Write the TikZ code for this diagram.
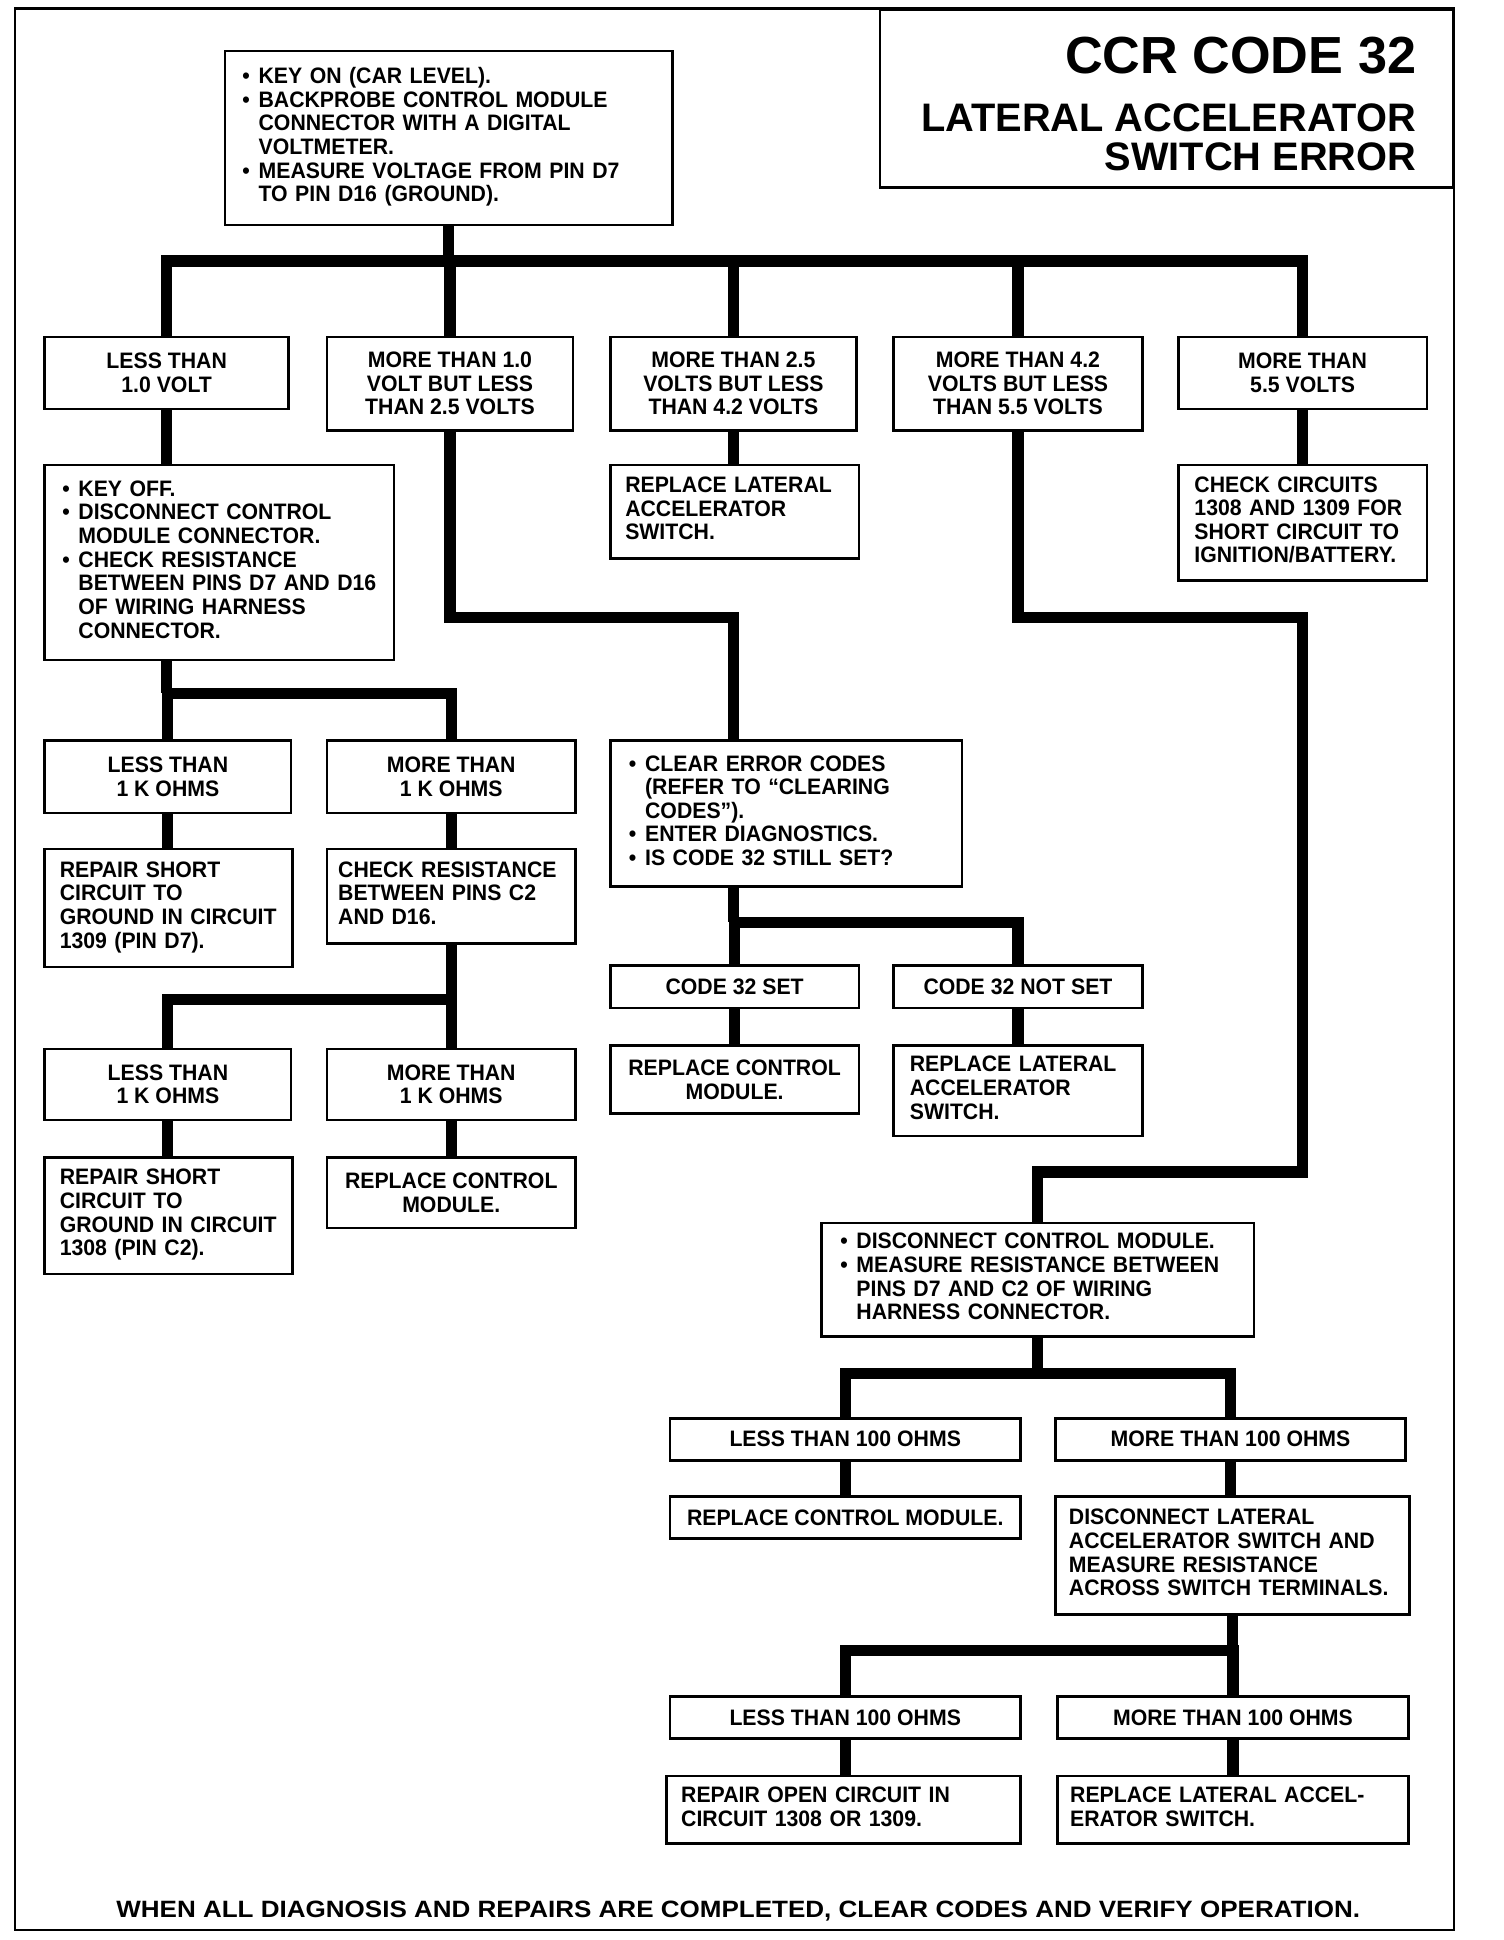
\documentclass[tikz,border=0pt]{standalone}
\usepackage{fontspec}
\usepackage{graphicx}
\setmainfont{Liberation Sans}
\newfontfamily\boxfont{Liberation Sans}[FakeStretch=0.95]
\newcommand{\lft}[1]{\begin{tabular}{@{}l@{}}#1\end{tabular}}
\newcommand{\blt}{\makebox[13pt][l]{\textbullet}}
\newcommand{\bsp}{\hspace*{13pt}}

\begin{document}
\begin{tikzpicture}
  [x=1pt, y=-1pt,
   box/.style={draw, line width=2.2pt, anchor=north west, inner xsep=8pt, inner ysep=0pt,
               font={\boxfont\bfseries\fontsize{18}{19}\selectfont}},
   cbox/.style={box, align=center},
   lbox/.style={box, align=left},
   link/.style={line width=9pt, line join=miter},
   frame/.style={line width=2pt}]
  \useasboundingbox (0,0) rectangle (1210,1561);
  \draw[frame] (12,7) rectangle (1170,1553);

  % title
  \node[draw, line width=2pt, anchor=north east, inner sep=0pt,
        minimum width=461pt, minimum height=143pt] (titlebox) at (1170,7) {};
  \node[anchor=base east, font={\fontsize{42}{44}\selectfont\bfseries}] (code) at (1143,59) {CCR CODE 32};
  \node[anchor=base east, font={\fontsize{32}{32}\selectfont\bfseries}] (sub1) at (1143,106) {LATERAL ACCELERATOR};
  \node[anchor=base east, font={\fontsize{32}{32}\selectfont\bfseries}] (sub2) at (1143,137) {SWITCH ERROR};

  % first test
  \node[lbox, inner xsep=14pt, text width=332pt, minimum height=140pt] (main) at (180,40)
    {\lft{\blt KEY ON (CAR LEVEL).\\ \blt BACKPROBE CONTROL MODULE\\ \bsp CONNECTOR WITH A DIGITAL\\
          \bsp VOLTMETER.\\ \blt MEASURE VOLTAGE FROM PIN D7\\ \bsp TO PIN D16 (GROUND).}};

  % voltage ranges
  \node[cbox, minimum width=196pt, minimum height=58pt] (lt10) at (35,270) {LESS THAN\\1.0 VOLT};
  \node[cbox, minimum width=198pt, minimum height=75pt] (mt10) at (262,270) {MORE THAN 1.0\\VOLT BUT LESS\\THAN 2.5 VOLTS};
  \node[cbox, minimum width=198pt, minimum height=75pt] (mt25) at (490,270) {MORE THAN 2.5\\VOLTS BUT LESS\\THAN 4.2 VOLTS};
  \node[cbox, minimum width=200pt, minimum height=75pt] (mt42) at (718,270) {MORE THAN 4.2\\VOLTS BUT LESS\\THAN 5.5 VOLTS};
  \node[cbox, minimum width=200pt, minimum height=58pt] (mt55) at (947,270) {MORE THAN\\5.5 VOLTS};

  \node[lbox, inner xsep=14pt, text width=253pt, minimum height=157pt] (keyoff) at (35,373)
    {\lft{\blt KEY OFF.\\ \blt DISCONNECT CONTROL\\ \bsp MODULE CONNECTOR.\\ \blt CHECK RESISTANCE\\
          \bsp BETWEEN PINS D7 AND D16\\ \bsp OF WIRING HARNESS\\ \bsp CONNECTOR.}};
  \node[lbox, inner xsep=12pt, text width=176pt, minimum height=75pt] (repsw1) at (490,373)
    {\lft{REPLACE LATERAL\\ACCELERATOR\\SWITCH.}};
  \node[lbox, inner xsep=13pt, text width=174pt, minimum height=93pt] (chkcirc) at (947,373)
    {\lft{CHECK CIRCUITS\\1308 AND 1309 FOR\\SHORT CIRCUIT TO\\IGNITION/BATTERY.}};

  % resistance D7 to D16
  \node[cbox, minimum width=198pt, minimum height=58pt] (lt1k) at (35,595) {LESS THAN\\1 K OHMS};
  \node[cbox, minimum width=200pt, minimum height=58pt] (mt1k) at (262,595) {MORE THAN\\1 K OHMS};
  \node[lbox, inner xsep=15pt, text width=253pt, minimum height=117pt] (clear) at (490,595)
    {\lft{\blt CLEAR ERROR CODES\\ \bsp (REFER TO “CLEARING\\ \bsp CODES”).\\ \blt ENTER DIAGNOSTICS.\\
          \blt IS CODE 32 STILL SET?}};
  \node[lbox, inner xsep=12pt, text width=175pt, minimum height=95pt] (shortD7) at (35,682)
    {\lft{REPAIR SHORT\\CIRCUIT TO\\GROUND IN CIRCUIT\\1309 (PIN D7).}};
  \node[lbox, inner xsep=9pt, text width=182pt, minimum height=76pt] (chkC2) at (262,682)
    {\lft{CHECK RESISTANCE\\BETWEEN PINS C2\\AND D16.}};

  \node[cbox, minimum width=200pt, minimum height=34pt] (set32) at (490,776) {CODE 32 SET};
  \node[cbox, minimum width=200pt, minimum height=34pt] (notset32) at (718,776) {CODE 32 NOT SET};
  \node[cbox, minimum width=200pt, minimum height=55pt] (repcm1) at (490,840) {REPLACE CONTROL\\MODULE.};
  \node[lbox, inner xsep=13pt, text width=174pt, minimum height=73pt] (repsw2) at (718,840)
    {\lft{REPLACE LATERAL\\ACCELERATOR\\SWITCH.}};

  % resistance C2 to D16
  \node[cbox, minimum width=198pt, minimum height=57pt] (lt1kb) at (35,843) {LESS THAN\\1 K OHMS};
  \node[cbox, minimum width=200pt, minimum height=57pt] (mt1kb) at (262,843) {MORE THAN\\1 K OHMS};
  \node[lbox, inner xsep=12pt, text width=175pt, minimum height=94pt] (shortC2) at (35,930)
    {\lft{REPAIR SHORT\\CIRCUIT TO\\GROUND IN CIRCUIT\\1308 (PIN C2).}};
  \node[cbox, minimum width=200pt, minimum height=57pt] (repcm2) at (262,930) {REPLACE CONTROL\\MODULE.};

  % resistance D7 to C2
  \node[lbox, inner xsep=15pt, text width=318pt, minimum height=91pt] (meas) at (660,983)
    {\lft{\blt DISCONNECT CONTROL MODULE.\\ \blt MEASURE RESISTANCE BETWEEN\\
          \bsp PINS D7 AND C2 OF WIRING\\ \bsp HARNESS CONNECTOR.}};
  \node[cbox, minimum width=282pt, minimum height=34pt] (lt100) at (538,1140) {LESS THAN 100 OHMS};
  \node[cbox, minimum width=282pt, minimum height=34pt] (mt100) at (848,1140) {MORE THAN 100 OHMS};
  \node[cbox, minimum width=282pt, minimum height=34pt] (repcm3) at (538,1203) {REPLACE CONTROL MODULE.};
  \node[lbox, inner xsep=11pt, text width=263pt, minimum height=95pt] (discsw) at (848,1203)
    {\lft{DISCONNECT LATERAL\\ACCELERATOR SWITCH AND\\MEASURE RESISTANCE\\ACROSS SWITCH TERMINALS.}};
  \node[cbox, minimum width=282pt, minimum height=34pt] (lt100b) at (538,1364) {LESS THAN 100 OHMS};
  \node[cbox, minimum width=282pt, minimum height=34pt] (mt100b) at (850,1364) {MORE THAN 100 OHMS};
  \node[lbox, inner xsep=12pt, text width=261pt, minimum height=54pt] (openc) at (535,1428)
    {\lft{REPAIR OPEN CIRCUIT IN\\CIRCUIT 1308 OR 1309.}};
  \node[lbox, inner xsep=10pt, text width=262pt, minimum height=54pt] (repsw3) at (850,1428)
    {\lft{REPLACE LATERAL ACCEL-\\ERATOR SWITCH.}};

  \node[font={\boxfont\bfseries\fontsize{19}{20}\selectfont}] (note) at (594,1538)
    {\scalebox{1.16}[1]{WHEN ALL DIAGNOSIS AND REPAIRS ARE COMPLETED, CLEAR CODES AND VERIFY OPERATION.}};

  % connectors
  \coordinate (bus1) at (0,210);
  \coordinate (bend1) at (0,497);
  \coordinate (bend2) at (0,943);
  \coordinate (bus2) at (0,558);
  \coordinate (bus3) at (0,804);
  \coordinate (bus4) at (0,742);
  \coordinate (bus5) at (0,1105);
  \coordinate (bus6) at (0,1328);

  \draw[link] (main.south) -- (main.south |- bus1);
  \draw[link] (lt10.north) |- (mt55.north |- bus1) -- (mt55.north);
  \foreach \n in {mt10,mt25,mt42}
    \draw[link] (\n.north) -- (\n.north |- bus1);

  \draw[link] (lt10.south) -- (lt10.south |- keyoff.north);
  \draw[link] (mt10.south) |- (mt25.south |- bend1) -- (mt25.south |- clear.north);
  \draw[link] (mt25.south) -- (mt25.south |- repsw1.north);
  \draw[link] (mt42.south) |- (mt55.south |- bend1) |- (meas.north |- bend2) -- (meas.north);
  \draw[link] (mt55.south) -- (mt55.south |- chkcirc.north);

  \draw[link] (lt10.south |- keyoff.south) -- (lt10.south |- bus2);
  \draw[link] (lt1k.north) |- (mt1k.north |- bus2) -- (mt1k.north);
  \draw[link] (lt1k.south) -- (lt1k.south |- shortD7.north);
  \draw[link] (mt1k.south) -- (mt1k.south |- chkC2.north);

  \draw[link] (chkC2.south) -- (chkC2.south |- bus3);
  \draw[link] (lt1kb.north) |- (mt1kb.north |- bus3) -- (mt1kb.north);
  \draw[link] (lt1kb.south) -- (lt1kb.south |- shortC2.north);
  \draw[link] (mt1kb.south) -- (mt1kb.south |- repcm2.north);

  \draw[link] (mt25.south |- clear.south) -- (mt25.south |- bus4);
  \draw[link] (set32.north) |- (notset32.north |- bus4) -- (notset32.north);
  \draw[link] (set32.south) -- (set32.south |- repcm1.north);
  \draw[link] (notset32.south) -- (notset32.south |- repsw2.north);

  \draw[link] (meas.south) -- (meas.south |- bus5);
  \draw[link] (lt100.north) |- (mt100.north |- bus5) -- (mt100.north);
  \draw[link] (lt100.south) -- (lt100.south |- repcm3.north);
  \draw[link] (mt100.south) -- (mt100.south |- discsw.north);

  \draw[link] (discsw.south) -- (discsw.south |- bus6);
  \draw[link] (lt100b.north) |- (mt100b.north |- bus6) -- (mt100b.north);
  \draw[link] (lt100b.south) -- (lt100b.south |- openc.north);
  \draw[link] (mt100b.south) -- (mt100b.south |- repsw3.north);
\end{tikzpicture}
\end{document}
